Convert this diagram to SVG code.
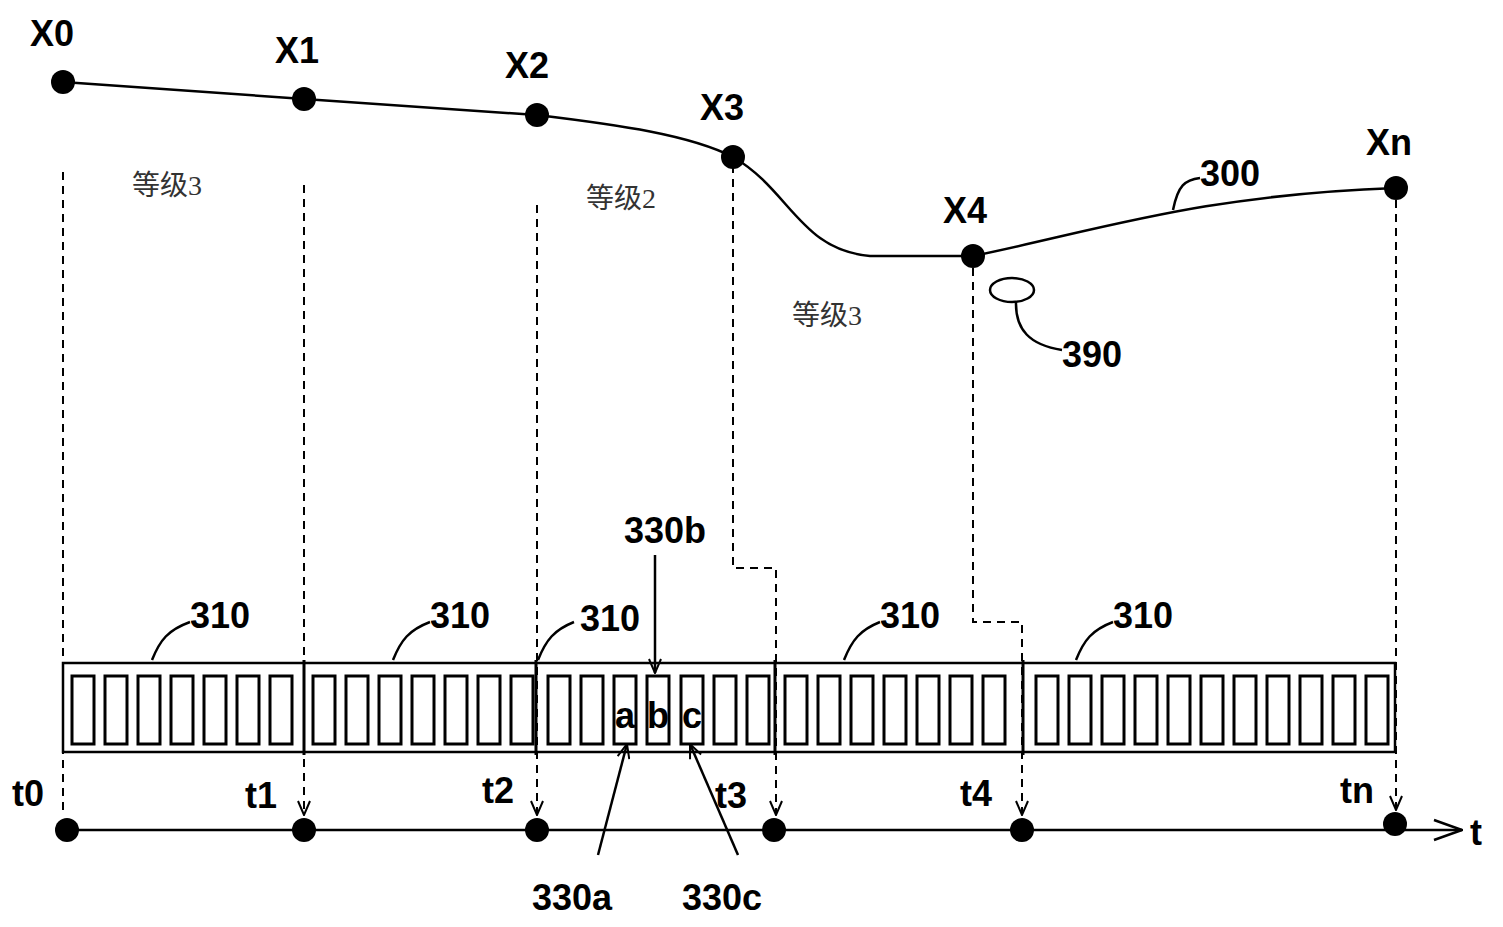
<svg xmlns="http://www.w3.org/2000/svg" width="1503" height="927" viewBox="0 0 1503 927">
<style>
.lbl{font-family:"Liberation Sans",Arial,sans-serif;font-weight:bold;font-size:36px;fill:#000}
.cn{font-family:"Liberation Serif","Noto Sans CJK SC",serif;font-size:28px;fill:#333}
.dash{stroke:#000;stroke-width:2;stroke-dasharray:8,6;fill:none}
.ln{stroke:#000;stroke-width:2.5;fill:none}
.cell{stroke:#000;stroke-width:3;fill:#fff}
</style>
<defs>
<marker id="ar" markerWidth="16" markerHeight="14" refX="15" refY="7" orient="auto" markerUnits="userSpaceOnUse" viewBox="0 0 16 14"><path d="M1,1 L15,7 L1,13" stroke="#000" stroke-width="2" fill="none"/></marker>
<marker id="ax" markerWidth="30" markerHeight="24" refX="29" refY="12" orient="auto" markerUnits="userSpaceOnUse" viewBox="0 0 30 24"><path d="M1,2 L29,12 L1,22" stroke="#000" stroke-width="2.5" fill="none"/></marker>
</defs>
<rect width="1503" height="927" fill="#fff"/>
<g id="connectors">
<path class="ln" d="M63,82 L304,99 L537,115 C620,125 690,135 733,157 C790,190 800,250 870,256 L973,256 C1100,230 1200,195 1396,188" stroke-width="3"/>
<path class="dash" d="M63,172 V810"/>
<path class="dash" d="M304,185 V815" marker-end="url(#ar)"/>
<path class="dash" d="M537,205 V815" marker-end="url(#ar)"/>
<path class="dash" d="M733,165 V568 H776 V815" marker-end="url(#ar)"/>
<path class="dash" d="M973,268 V622 H1022 V815" marker-end="url(#ar)"/>
<path class="dash" d="M1396,200 V810" marker-end="url(#ar)"/>
<path class="ln" d="M67,830 H1462" marker-end="url(#ax)"/>
<path class="ln" d="M655,555 V673" marker-end="url(#ar)"/>
<path class="ln" d="M598,855 L627,744" marker-end="url(#ar)"/>
<path class="ln" d="M738,855 L690,744" marker-end="url(#ar)"/>
<path class="ln" d="M1173,210 C1178,185 1185,180 1200,178"/>
<path class="ln" d="M1016,301 C1015,330 1030,345 1062,350"/>
<path class="ln" d="M152,660 C160,640 168,630 190,622"/>
<path class="ln" d="M393,660 C401,640 409,630 430,622"/>
<path class="ln" d="M538,660 C546,640 554,630 574,622"/>
<path class="ln" d="M844,660 C852,640 860,630 880,622"/>
<path class="ln" d="M1076,660 C1084,640 1092,630 1113,622"/>
</g>
<g id="bar">
<rect x="63" y="663" width="1332" height="89" fill="none" stroke="#000" stroke-width="2.5"/>
<path d="M304,660 V755 M536,660 V755 M775,660 V755 M1023,660 V755" stroke="#000" stroke-width="3"/>
<g id="cells">
<rect class="cell" x="72" y="676" width="22" height="68"/><rect class="cell" x="105" y="676" width="22" height="68"/><rect class="cell" x="138" y="676" width="22" height="68"/><rect class="cell" x="171" y="676" width="22" height="68"/><rect class="cell" x="204" y="676" width="22" height="68"/><rect class="cell" x="237" y="676" width="22" height="68"/><rect class="cell" x="270" y="676" width="22" height="68"/>
<rect class="cell" x="313" y="676" width="22" height="68"/><rect class="cell" x="346" y="676" width="22" height="68"/><rect class="cell" x="379" y="676" width="22" height="68"/><rect class="cell" x="412" y="676" width="22" height="68"/><rect class="cell" x="445" y="676" width="22" height="68"/><rect class="cell" x="478" y="676" width="22" height="68"/><rect class="cell" x="511" y="676" width="22" height="68"/>
<rect class="cell" x="548" y="676" width="22" height="68"/><rect class="cell" x="581" y="676" width="22" height="68"/><rect class="cell" x="614" y="676" width="22" height="68"/><rect class="cell" x="647" y="676" width="22" height="68"/><rect class="cell" x="681" y="676" width="22" height="68"/><rect class="cell" x="714" y="676" width="22" height="68"/><rect class="cell" x="747" y="676" width="22" height="68"/>
<rect class="cell" x="785" y="676" width="22" height="68"/><rect class="cell" x="818" y="676" width="22" height="68"/><rect class="cell" x="851" y="676" width="22" height="68"/><rect class="cell" x="884" y="676" width="22" height="68"/><rect class="cell" x="917" y="676" width="22" height="68"/><rect class="cell" x="950" y="676" width="22" height="68"/><rect class="cell" x="983" y="676" width="22" height="68"/>
<rect class="cell" x="1036" y="676" width="22" height="68"/><rect class="cell" x="1069" y="676" width="22" height="68"/><rect class="cell" x="1102" y="676" width="22" height="68"/><rect class="cell" x="1135" y="676" width="22" height="68"/><rect class="cell" x="1168" y="676" width="22" height="68"/><rect class="cell" x="1201" y="676" width="22" height="68"/><rect class="cell" x="1234" y="676" width="22" height="68"/><rect class="cell" x="1267" y="676" width="22" height="68"/><rect class="cell" x="1300" y="676" width="22" height="68"/><rect class="cell" x="1333" y="676" width="22" height="68"/><rect class="cell" x="1366" y="676" width="22" height="68"/>
</g>
<text class="lbl" x="625" y="728" text-anchor="middle" font-size="32">a</text>
<text class="lbl" x="658" y="728" text-anchor="middle" font-size="32">b</text>
<text class="lbl" x="692" y="728" text-anchor="middle" font-size="32">c</text>
</g>
<g id="points">
<circle cx="63" cy="82" r="12"/><circle cx="304" cy="99" r="12"/><circle cx="537" cy="115" r="12"/><circle cx="733" cy="157" r="12"/><circle cx="973" cy="256" r="12"/><circle cx="1396" cy="188" r="12"/>
<circle cx="67" cy="830" r="12"/><circle cx="304" cy="830" r="12"/><circle cx="537" cy="830" r="12"/><circle cx="774" cy="830" r="12"/><circle cx="1022" cy="830" r="12"/><circle cx="1395" cy="824" r="12"/>
<ellipse cx="1012" cy="290" rx="22" ry="12" fill="none" stroke="#000" stroke-width="2.5"/>
</g>
<g id="labels">
<text class="lbl" x="30" y="46">X0</text><text class="lbl" x="275" y="63">X1</text><text class="lbl" x="505" y="78">X2</text><text class="lbl" x="700" y="120">X3</text><text class="lbl" x="943" y="223">X4</text><text class="lbl" x="1366" y="155">Xn</text>
<text class="lbl" x="1200" y="186">300</text><text class="lbl" x="1062" y="367">390</text>
<text class="cn" x="132" y="195">等级3</text><text class="cn" x="586" y="208">等级2</text><text class="cn" x="792" y="325">等级3</text>
<text class="lbl" x="190" y="628">310</text><text class="lbl" x="430" y="628">310</text><text class="lbl" x="580" y="631">310</text><text class="lbl" x="880" y="628">310</text><text class="lbl" x="1113" y="628">310</text>
<text class="lbl" x="624" y="543">330b</text><text class="lbl" x="532" y="910">330a</text><text class="lbl" x="682" y="910">330c</text>
<text class="lbl" x="12" y="806">t0</text><text class="lbl" x="245" y="808">t1</text><text class="lbl" x="482" y="803">t2</text><text class="lbl" x="715" y="808">t3</text><text class="lbl" x="960" y="806">t4</text><text class="lbl" x="1340" y="803">tn</text><text class="lbl" x="1470" y="845">t</text>
</g>
</svg>
